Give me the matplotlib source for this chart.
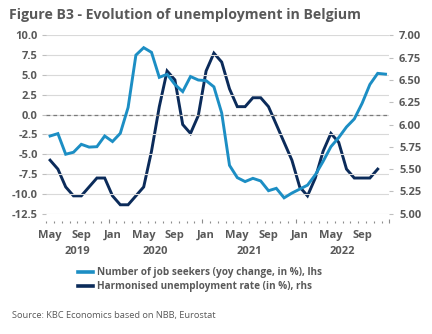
import matplotlib
matplotlib.use("Agg")
import matplotlib.pyplot as plt
from matplotlib.ticker import FixedLocator, FuncFormatter

plt.rcParams['font.family'] = ['Open Sans', 'DejaVu Sans']

# Monthly observations, May 2019 - Dec 2022
start_year, start_month = 2019, 5

job_seekers = [-2.7, -2.4, -5.0, -4.75, -3.75, -4.1, -4.05, -2.7, -3.4, -2.36,
               0.9, 7.5, 8.44, 7.85, 4.7, 5.08, 3.8, 2.9, 4.8, 4.36,
               4.28, 3.5, 0.2, -6.4, -7.95, -8.45, -8.04, -8.37, -9.6, -9.3,
               -10.5, -9.9, -9.4, -8.9, -7.6, -5.9, -4.05, -2.9, -1.56, -0.55,
               1.42, 3.8, 5.2, 5.1]

unemployment_rate = [5.6, 5.5, 5.3, 5.2, 5.2, 5.3, 5.4, 5.4, 5.2, 5.1,
                     5.1, 5.2, 5.3, 5.7, 6.2, 6.6, 6.5, 6.0, 5.9, 6.1,
                     6.6, 6.8, 6.7, 6.4, 6.2, 6.2, 6.3, 6.3, 6.2, 6.0,
                     5.8, 5.6, 5.3, 5.2, 5.4, 5.7, 5.9, 5.8, 5.5, 5.4,
                     5.4, 5.4, 5.5]

month_names = ['Jan', 'Feb', 'Mar', 'Apr', 'May', 'Jun',
               'Jul', 'Aug', 'Sep', 'Oct', 'Nov', 'Dec']
years = [2019, 2020, 2021, 2022]

label_js = 'Number of job seekers (yoy change, in %), lhs'
label_ur = 'Harmonised unemployment rate (in %), rhs'
title = 'Figure B3 - Evolution of unemployment in Belgium'
source = 'Source: KBC Economics based on NBB, Eurostat'

light_blue = '#1c8ec4'
navy = '#0b2b5a'
text_grey = '#595959'
grid_grey = '#d9d9d9'
tick_grey = '#bfbfbf'

n = len(job_seekers)
idx = list(range(n))
month_of = [(start_month - 1 + i) % 12 for i in idx]
year_of = [start_year + (start_month - 1 + i) // 12 for i in idx]

fig = plt.figure(figsize=(4.32, 3.34), dpi=100)
W, H = 432, 334
left, right, top, bottom = 46.2, 389.4, 35.3, 213.7
ax = fig.add_axes([left / W, 1 - bottom / H, (right - left) / W, (bottom - top) / H])
ax2 = ax.twinx()

ax.set_zorder(ax2.get_zorder() + 1)
ax.patch.set_visible(False)

# left axis: job seekers
ax.set_ylim(-12.5, 10)
ax.yaxis.set_major_locator(FixedLocator([-12.5 + 2.5 * k for k in range(10)]))
ax.yaxis.set_major_formatter(FuncFormatter(lambda v, p: f'{v:.1f}'))
ax.grid(axis='y', color=grid_grey, lw=0.8)
ax.set_axisbelow(True)
ax.axhline(0, color='#7a7a7a', lw=0.9, ls=(0, (3, 2.5)), zorder=1)

# right axis: unemployment rate
ax2.set_ylim(5.0, 7.0)
ax2.yaxis.set_major_locator(FixedLocator([5.0 + 0.25 * k for k in range(9)]))
ax2.yaxis.set_major_formatter(FuncFormatter(lambda v, p: f'{v:.2f}'))

l2, = ax2.plot(idx[:len(unemployment_rate)], unemployment_rate, color=navy,
               lw=2.1, solid_joinstyle='miter', label=label_ur)
l1, = ax.plot(idx, job_seekers, color=light_blue, lw=2.1,
              solid_joinstyle='miter', label=label_js, zorder=3)

for a in (ax, ax2):
    for s in a.spines.values():
        s.set_visible(False)
    a.set_xlim(-0.5, n - 0.5)

tick_font = dict(family=['Open Sans', 'DejaVu Sans'], weight='bold', size=8)
ax.tick_params(axis='y', length=3, width=0.8, color=tick_grey, pad=3,
               labelcolor=text_grey)
ax2.tick_params(axis='y', length=3, width=0.8, color=tick_grey, pad=4,
                labelcolor=text_grey)
for lab in ax.get_yticklabels() + ax2.get_yticklabels():
    lab.set_fontproperties(matplotlib.font_manager.FontProperties(**tick_font))

# x axis: month boundaries as ticks, labels every four months
ax.spines['bottom'].set_position(('outward', 7))
boundaries = [i - 0.5 for i in range(n + 1)]
jan_bounds = [i - 0.5 for i in idx if month_of[i] == 0] + [n - 0.5]
ax.xaxis.set_major_locator(FixedLocator(jan_bounds))
ax.xaxis.set_minor_locator(FixedLocator([b for b in boundaries if b not in jan_bounds]))
ax.xaxis.set_major_formatter(FuncFormatter(lambda v, p: ''))
ax.tick_params(axis='x', which='major', direction='in', length=3, width=0.8,
               color='#8c8c8c')
ax.tick_params(axis='x', which='minor', direction='in', length=1.3, width=0.8,
               color='#8c8c8c')
ax2.tick_params(axis='x', which='both', bottom=False, labelbottom=False)

trans = matplotlib.transforms.blended_transform_factory(ax.transData, fig.transFigure)
for i in idx:
    if (i % 4) == 0:
        ax.text(i, 1 - 235.5 / H, month_names[month_of[i]], transform=trans,
                ha='center', va='center', color=text_grey, **tick_font)
for y in years:
    members = [i for i in idx if year_of[i] == y]
    centre = (members[0] - 0.5 + members[-1] + 0.5) / 2
    ax.text(centre, 1 - 251.5 / H, str(y), transform=trans, ha='center',
            va='center', color=text_grey, **tick_font)

fig.text(9 / W, 1 - 15.5 / H, title, ha='left', va='center', color=text_grey,
         family=['Open Sans', 'DejaVu Sans'], weight='bold', size=10.2)

leg = fig.legend(handles=[l1, l2], loc='upper left',
                 bbox_to_anchor=(78.3 / W, 1 - 267 / H), frameon=False,
                 handlelength=1.45, handletextpad=0.4, labelspacing=0.35,
                 borderpad=0, borderaxespad=0,
                 prop=dict(family=['Open Sans', 'DejaVu Sans'], weight='bold', size=7.2))
for t in leg.get_texts():
    t.set_color(text_grey)
for h in leg.legend_handles:
    h.set_linewidth(2.6)

fig.text(11.5 / W, 1 - 315.7 / H, source, ha='left', va='center', color=text_grey,
         family=['Open Sans', 'DejaVu Sans'], size=6.7)

fig.savefig('out.png', dpi=100)
